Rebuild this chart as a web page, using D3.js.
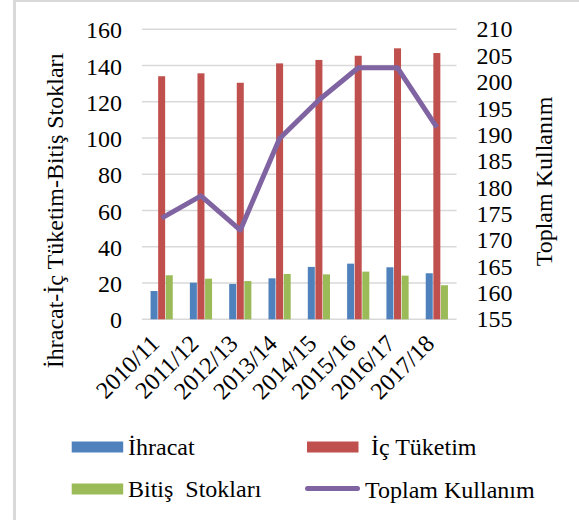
<!DOCTYPE html>
<html><head><meta charset="utf-8">
<script src="https://cdn.jsdelivr.net/npm/d3@7"></script>
<style>body{margin:0;background:#fff;} svg{display:block;} svg text{font-family:"Liberation Serif","Times New Roman",Times,serif !important;}</style>
</head><body>
<svg id="c" width="579" height="520"></svg>
<script>
const categories = ["2010/11","2011/12","2012/13","2013/14","2014/15","2015/16","2016/17","2017/18"];
const ihracat = [15.6, 20.2, 19.5, 22.6, 28.9, 30.7, 28.7, 25.4];
const icTuketim = [134.1, 135.7, 130.5, 141.2, 143.1, 145.4, 149.5, 146.9];
const bitisStoklari = [24.3, 22.4, 21.1, 25.0, 24.8, 26.3, 24.1, 18.8];
const toplamKullanim = [174.2, 178.4, 171.9, 189.3, 196.6, 202.7, 202.7, 191.4];
const leftTicks = [0,20,40,60,80,100,120,140,160];
const rightTicks = [155,160,165,170,175,180,185,190,195,200,205,210];
const seriesNames = ["İhracat","İç Tüketim","Bitiş  Stokları"];
const colors = {"İhracat":"#4f81bd","İç Tüketim":"#c0504d","Bitiş  Stokları":"#9bbb59","Toplam Kullanım":"#8064a2"};

const svg = d3.select("#c");
const L=142, R=456.5, T=29.3, B=319.3;
const FS = 24;

svg.append("line").attr("x1",14.5).attr("x2",14.5).attr("y1",0).attr("y2",520).attr("stroke","#d9d9d9").attr("stroke-width",3);
svg.append("line").attr("x1",14).attr("x2",579).attr("y1",1).attr("y2",1).attr("stroke","#d9d9d9").attr("stroke-width",2);

const x = d3.scaleBand().domain(categories).range([L,R]).paddingInner(0.42).paddingOuter(0.21);
const xs = d3.scaleBand().domain(seriesNames).range([0,x.bandwidth()]);
const y = d3.scaleLinear().domain([0,160]).range([B,T]);
const y2 = d3.scaleLinear().domain([155,210]).range([B,T]);

svg.append("g").selectAll("line").data(leftTicks).join("line")
  .attr("x1",L).attr("x2",R).attr("y1",d=>y(d)).attr("y2",d=>y(d))
  .attr("stroke","#d9d9d9").attr("stroke-width",1.5);

const gl = svg.append("g").attr("transform",`translate(${L},0.8)`)
  .call(d3.axisLeft(y).tickValues(leftTicks).tickSize(0).tickPadding(20));
gl.attr("font-family",null).attr("font-size",null);
gl.select(".domain").remove();
gl.selectAll("text").attr("font-size",FS).attr("fill","#000");

const gr = svg.append("g").attr("transform",`translate(${R},0)`)
  .call(d3.axisRight(y2).tickValues(rightTicks).tickSize(0).tickPadding(20));
gr.attr("font-family",null).attr("font-size",null);
gr.select(".domain").remove();
gr.selectAll("text").attr("font-size",FS).attr("fill","#000");

const data = [ihracat, icTuketim, bitisStoklari];
seriesNames.forEach((s,i)=>{
  svg.append("g").selectAll("rect").data(categories).join("rect")
    .attr("x",c=>x(c)+xs(s)+0.3)
    .attr("width",xs.bandwidth()-0.6)
    .attr("y",(c,j)=>y(data[i][j]))
    .attr("height",(c,j)=>B-y(data[i][j]))
    .attr("fill",colors[s]);
});

const line = d3.line().x((d,i)=>x(categories[i])+x.bandwidth()/2).y(d=>y2(d));
svg.append("path").datum(toplamKullanim).attr("d",line)
  .attr("fill","none").attr("stroke",colors["Toplam Kullanım"]).attr("stroke-width",5).attr("stroke-linejoin","round");

svg.append("g").selectAll("text").data(categories).join("text")
  .attr("transform",c=>`translate(${x(c)+x.bandwidth()/2-1},${345}) rotate(-45)`)
  .attr("text-anchor","end").attr("font-size",FS).text(c=>c);

svg.append("text").attr("transform","translate(63,210.5) rotate(-90)")
  .attr("text-anchor","middle").attr("font-size",FS).text("İhracat-İç Tüketim-Bitiş Stokları");
svg.append("text").attr("transform","translate(552,181.5) rotate(-90)")
  .attr("text-anchor","middle").attr("font-size",FS).text("Toplam Kullanım");

const leg = [
  {name:"İhracat", label:"İhracat", x:71.7, y:447, type:"rect", tx:128, ty:455},
  {name:"İç Tüketim", label:"İç Tüketim", x:307, y:447, type:"rect", tx:371, ty:455},
  {name:"Bitiş  Stokları", label:"Bitiş\u00a0\u00a0Stokları", x:71.7, y:489, type:"rect", tx:128, ty:497},
  {name:"Toplam Kullanım", label:"Toplam Kullanım", x:305, y:488.5, type:"line", tx:365, ty:497.5}
];
const lg = svg.append("g");
leg.forEach(d=>{
  if(d.type==="rect"){
    lg.append("rect").attr("x",d.x).attr("y",d.y-5.5).attr("width",51.5).attr("height",11).attr("fill",colors[d.name]);
  } else {
    lg.append("line").attr("x1",d.x+2.5).attr("x2",d.x+52.5).attr("y1",d.y).attr("y2",d.y)
      .attr("stroke",colors[d.name]).attr("stroke-width",5).attr("stroke-linecap","round");
  }
  lg.append("text").attr("x",d.tx).attr("y",d.ty).attr("font-size",FS).text(d.label);
});
</script>
</body></html>
